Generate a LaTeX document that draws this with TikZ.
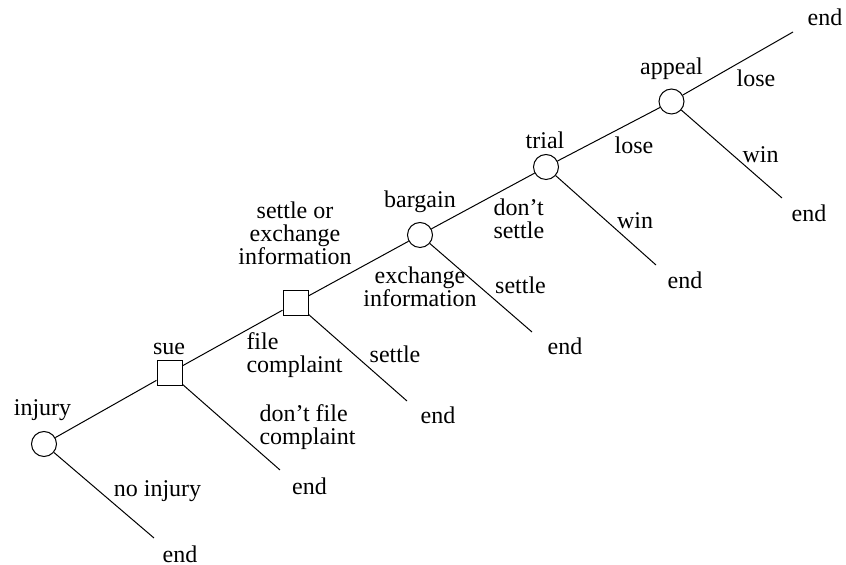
\documentclass[tikz,border=0pt]{standalone}
\usepackage{fontspec}
\setmainfont{Liberation Serif}
\usetikzlibrary{positioning}

\begin{document}
\begin{tikzpicture}[
    x=0.5pt, y=-0.5pt,
    line width=0.5pt,
    chance/.style={draw, circle, minimum size=12.5pt, inner sep=0pt},
    choice/.style={draw, rectangle, minimum size=12.5pt, inner sep=0pt},
    lbl/.style={inner sep=0pt, font=\fontsize{12}{11.5}\selectfont},
    lblleft/.style={lbl, align=left},
    lblmid/.style={lbl, align=center}
]
\useasboundingbox (0,0) rectangle (846,565);

% Decision points
\node[chance] (injury) at (44,444) {};
\node[choice] (sue) at (169.5,373) {};
\node[choice] (file) at (295.5,303) {};
\node[chance] (bargain) at (420,235) {};
\node[chance] (trial) at (546,167) {};
\node[chance] (appeal) at (671.5,101.5) {};

% Free ends of the branches
\coordinate (e0) at (154,538);
\coordinate (e1) at (280,470);
\coordinate (e2) at (407,401);
\coordinate (e3) at (532,332);
\coordinate (e4) at (656,265);
\coordinate (e5) at (782,198);
\coordinate (e6) at (793,32);

% Main line and branches
\draw (injury) -- (sue) -- (file) -- (bargain) -- (trial) -- (appeal) -- (e6);
\foreach \n/\e in {injury/e0, sue/e1, file/e2, bargain/e3, trial/e4, appeal/e5}
    \draw (\n) -- (\e);

% Node labels
\node[lbl] (linjury) at (42.5,410) {injury};
\node[lbl] (lsue) at (169,348.5) {sue};
\node[lblmid] (lfile) at (295,233.5) {settle or\\exchange\\information};
\node[lbl] (lbargain) at (420,201.5) {bargain};
\node[lbl] (ltrial) at (545,140) {trial};
\node[lbl] (lappeal) at (671.5,68.5) {appeal};

% Branch labels
\node[lbl] (noinj) at (157.5,491.5) {no injury};
\node[lblleft, anchor=west] (cmpl) at (246,355) {file\\complaint};
\node[lblleft, anchor=west] (nocmpl) at (259,427.5) {don't file\\complaint};
\node[lblmid] (exch) at (420,286.5) {exchange\\information};
\node[lbl] (settle1) at (395,354.5) {settle};
\node[lblleft, anchor=west] (nosettle) at (493,219) {don't\\settle};
\node[lbl] (settle2) at (520.5,285.5) {settle};
\node[lbl] (lose1) at (634,145.5) {lose};
\node[lbl] (win1) at (635,220.5) {win};
\node[lbl] (lose2) at (756,78.5) {lose};
\node[lbl] (win2) at (760.5,154.5) {win};

% Terminal labels
\node[lbl] (end0) at (180,554) {end};
\node[lbl] (end1) at (309.5,486) {end};
\node[lbl] (end2) at (438,415) {end};
\node[lbl] (end3) at (565,346) {end};
\node[lbl] (end4) at (685,280) {end};
\node[lbl] (end5) at (809,213) {end};
\node[lbl] (end6) at (825,17) {end};
\end{tikzpicture}
\end{document}
